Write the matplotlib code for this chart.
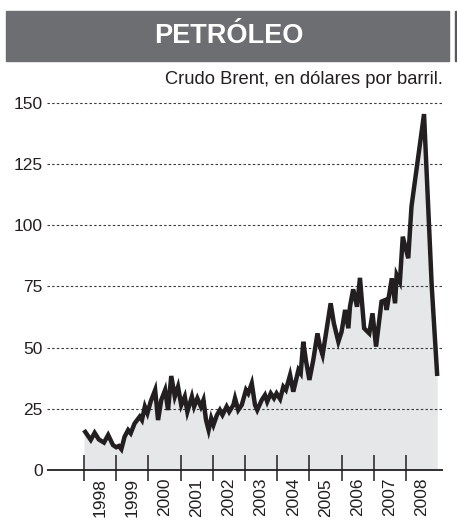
import matplotlib
matplotlib.use('Agg')
import matplotlib.pyplot as plt
from matplotlib.patches import Rectangle
import numpy as np

""" Datos leidos del grafico """

fecha = [1998.00, 1998.21, 1998.33, 1998.46, 1998.62, 1998.75, 1998.90,
         1999.00, 1999.08, 1999.16, 1999.26, 1999.37, 1999.45, 1999.57,
         1999.73, 1999.80, 1999.89, 1999.97, 2000.07, 2000.21, 2000.30,
         2000.40, 2000.52, 2000.61, 2000.71, 2000.82, 2000.92, 2001.02,
         2001.13, 2001.21, 2001.35, 2001.42, 2001.52, 2001.63, 2001.71,
         2001.79, 2001.87, 2001.95, 2002.02, 2002.13, 2002.22, 2002.30,
         2002.43, 2002.51, 2002.64, 2002.69, 2002.79, 2002.90, 2003.03,
         2003.10, 2003.21, 2003.31, 2003.38, 2003.52, 2003.62, 2003.69,
         2003.80, 2003.90, 2003.98, 2004.09, 2004.19, 2004.27, 2004.40,
         2004.50, 2004.66, 2004.73, 2004.81, 2004.89, 2005.00, 2005.12,
         2005.25, 2005.33, 2005.41, 2005.54, 2005.66, 2005.76, 2005.90,
         2006.00, 2006.11, 2006.21, 2006.26, 2006.36, 2006.48, 2006.57,
         2006.70, 2006.86, 2006.96, 2007.07, 2007.24, 2007.35, 2007.40,
         2007.56, 2007.66, 2007.71, 2007.81, 2007.90, 2008.07, 2008.17,
         2008.56, 2008.80, 2008.97]

brent = [16.3, 12.3, 15.2, 12.5, 11.2, 14.3, 10.2,
         9.3, 9.8, 8.5, 13.6, 16.3, 15.0, 19.0,
         21.8, 20.4, 25.9, 23.2, 27.9, 32.7, 20.4,
         28.6, 32.7, 24.5, 38.4, 30.0, 34.0, 26.5,
         30.0, 23.8, 30.0, 25.9, 29.3, 25.9, 28.6,
         20.4, 16.3, 21.1, 18.4, 22.5, 24.5, 22.5,
         25.9, 23.8, 26.6, 29.3, 24.5, 26.6, 32.7,
         31.3, 35.4, 26.6, 24.5, 28.6, 30.6, 27.9,
         31.3, 29.3, 31.3, 29.0, 34.0, 32.7, 38.8,
         32.0, 40.9, 39.5, 52.4, 44.9, 36.8, 44.9,
         55.8, 50.4, 47.0, 57.9, 68.1, 59.9, 52.4,
         56.5, 65.4, 57.9, 66.7, 73.8, 66.7, 78.5,
         57.9, 55.8, 64.0, 50.4, 68.8, 69.4, 65.4,
         78.3, 68.1, 79.7, 76.9, 95.3, 86.5, 107.6,
         145.4, 74.9, 38.4]

anios = list(range(1998, 2009))
niveles = [0, 25, 50, 75, 100, 125, 150]

titulo = 'PETRÓLEO'
subtitulo = 'Crudo Brent, en dólares por barril.'

""" Figura """

W, H = 457, 528
plt.rcParams['font.family'] = ['Liberation Sans', 'DejaVu Sans']
tinta = '#231f20'

fig = plt.figure(figsize=(W / 100, H / 100), dpi=100)

def fx(px):
    return px / W

def fy(py):
    return 1 - py / H

# banda del titulo
fig.patches.append(Rectangle((fx(6), fy(61)), fx(449) - fx(6), fy(11) - fy(61),
                             transform=fig.transFigure, color='#6d6e71', zorder=0))
fig.patches.append(Rectangle((fx(455), fy(61)), fx(457) - fx(455), fy(11) - fy(61),
                             transform=fig.transFigure, color='#58595b', zorder=0))
fig.text(fx(228.5), fy(43), titulo, color='white', fontsize=19.5,
         fontweight='bold', ha='center', va='baseline')
fig.text(fx(443), fy(84), subtitulo, color=tinta, fontsize=13.2,
         ha='right', va='baseline')

# eje un poco por debajo del cero para que la linea base no quede recortada
ax = fig.add_axes([fx(47), fy(478), fx(443) - fx(47), fy(99) - fy(478)])

fecha = np.array(fecha)
brent = np.array(brent)

ax.fill_between(fecha, 0, brent, color='#e6e7e8', lw=0, zorder=1)
ax.plot(fecha, brent, color=tinta, lw=3.2, solid_joinstyle='miter',
        solid_capstyle='butt', zorder=3)

for n in niveles[1:]:
    ax.axhline(n, color='#3a3a3c', lw=0.8, ls=(0, (2.2, 2.0)), zorder=2)
ax.axhline(0, color=tinta, lw=1.3, zorder=5)

x0 = 1998 + (47 - 84) / 32.2
x1 = 1998 + (443 - 84) / 32.2
ax.set_xlim(x0, x1)
ax.set_ylim(-8 / 61.2 * 25, (470 - 99) / 61.2 * 25)

# rayitas de los anios, cruzando la linea base
ax.vlines(anios, -11 / 61.2 * 25, 15 / 61.2 * 25, color=tinta, lw=1.1,
          zorder=6, clip_on=False)

for s in ax.spines.values():
    s.set_visible(False)

ax.set_yticks(niveles)
ax.set_yticklabels([str(n) for n in niveles])
ax.tick_params(axis='y', length=0, pad=3, labelsize=12.5, labelcolor=tinta)

ax.set_xticks([a + 0.5 for a in anios])
ax.set_xticklabels([str(a) for a in anios], rotation=90, va='top')
ax.tick_params(axis='x', which='major', length=0, pad=0, labelsize=12.5,
               labelcolor=tinta)

fig.savefig('out.png', dpi=100)
